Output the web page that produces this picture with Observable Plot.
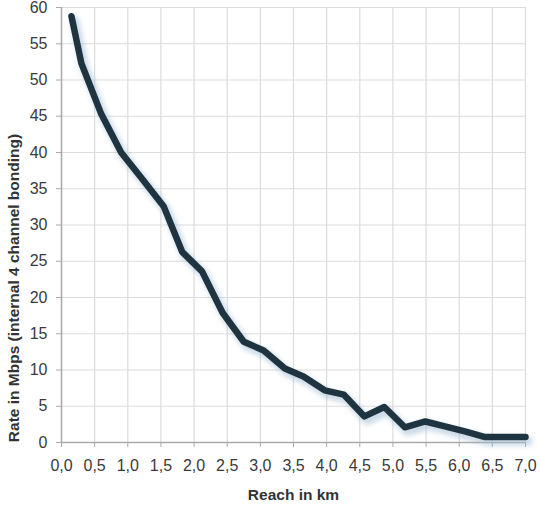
<!DOCTYPE html>
<html>
<head>
<meta charset="utf-8">
<script src="https://cdn.jsdelivr.net/npm/d3@7"></script>
<script src="https://cdn.jsdelivr.net/npm/@observablehq/plot@0.6"></script>
<style>
  body { margin: 0; background: #fff; }
</style>
</head>
<body>
<div id="chart"></div>
<script>
// Reach (km) vs rate (Mbps)
const reach = [0.15, 0.30, 0.60, 0.90, 1.23, 1.54, 1.82, 2.12, 2.43, 2.75, 3.05, 3.37, 3.65, 3.97, 4.26, 4.57, 4.87, 5.18, 5.49, 5.80, 6.10, 6.39, 6.70, 7.00];
const rate = [58.8, 52.3, 45.3, 40.0, 36.2, 32.6, 26.3, 23.6, 17.9, 13.9, 12.7, 10.2, 9.1, 7.2, 6.6, 3.6, 4.9, 2.1, 2.9, 2.2, 1.5, 0.75, 0.75, 0.75];
const xTicks = d3.range(0, 7.01, 0.5);
const yTicks = d3.range(0, 61, 5);
const xLabel = "Reach in km";
const yLabel = "Rate in Mbps (internal 4 channel bonding)";

const data = reach.map((r, i) => ({reach: r, rate: rate[i]}));
const fmt = d => d.toFixed(1).replace(".", ",");

const chart = Plot.plot({
  width: 540,
  height: 505,
  marginLeft: 61,
  marginRight: 15,
  marginTop: 7,
  marginBottom: 63,
  style: {fontFamily: "Liberation Sans, Arial, sans-serif", fontSize: "16px", color: "#3a3a3a"},
  x: {domain: [0, 7]},
  y: {domain: [0, 60]},
  marks: [
    Plot.gridX(xTicks, {stroke: "#dcdcdc", strokeOpacity: 1, strokeWidth: 1.2}),
    Plot.gridY(yTicks, {stroke: "#dcdcdc", strokeOpacity: 1, strokeWidth: 1.2}),
    Plot.axisX(xTicks, {tickFormat: fmt, tickSize: 5, tickPadding: 12, stroke: "#aaa",
      fontSize: 16, label: null}),
    Plot.axisY(yTicks, {tickSize: 5, tickPadding: 9, stroke: "#aaa", fontSize: 16, label: null}),
    Plot.ruleX([0], {stroke: "#aaa", strokeWidth: 1.5}),
    Plot.ruleY([0], {stroke: "#aaa", strokeWidth: 1.5}),
    // axis titles
    Plot.text([xLabel], {frameAnchor: "bottom", dy: 57, fontWeight: "bold", fontSize: 15.5, fill: "#333"}),
    Plot.text([yLabel], {frameAnchor: "left", textAnchor: "middle", dx: -47, dy: 63, rotate: -90,
      fontWeight: "bold", fontSize: 15.5, fill: "#333"}),
    // soft shadow below the line
    Plot.line(data, {x: "reach", y: "rate", stroke: "#9fb9d2", strokeWidth: 9, strokeOpacity: 0.55,
      dx: 3, dy: 4, strokeLinejoin: "round", strokeLinecap: "round"}),
    Plot.line(data, {x: "reach", y: "rate", stroke: "#1f3441", strokeWidth: 6.5,
      strokeLinejoin: "round", strokeLinecap: "round"})
  ]
});

// blur the shadow line
const svg = d3.select(chart);
svg.append("defs").append("filter").attr("id", "soft")
  .attr("x", "-10%").attr("y", "-10%").attr("width", "120%").attr("height", "120%")
  .append("feGaussianBlur").attr("stdDeviation", 2.5);
svg.selectAll("g[aria-label='line']").filter((d, i) => i === 0).attr("filter", "url(#soft)");

document.getElementById("chart").append(chart);
</script>
</body>
</html>
